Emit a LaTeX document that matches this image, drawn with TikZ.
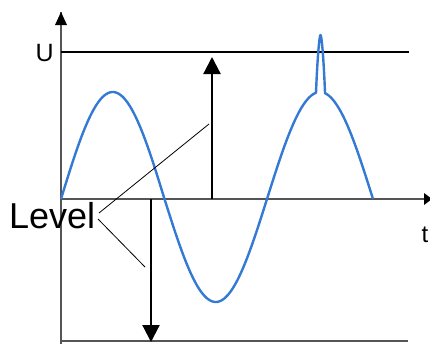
\documentclass[tikz,border=0pt]{standalone}
\usepackage{fontspec}
\setmainfont{Liberation Sans}
\usetikzlibrary{arrows.meta}
\definecolor{wave}{RGB}{52,122,212}
\definecolor{axisgray}{RGB}{85,85,85}
\begin{document}
\begin{tikzpicture}[x=1pt,y=-1pt,
  axisline/.style={draw=axisgray,line width=1.6pt},
  refline/.style={draw=black,line width=2.2pt},
  levelarrow/.style={draw=black,line width=2.2pt,-{Triangle[length=17pt,width=17pt]}},
  pointer/.style={draw=black,line width=0.8pt},
  wavestyle/.style={draw=wave,line width=2.4pt,line join=round}]
\useasboundingbox (0,0) rectangle (430,343);
\clip (0,0) rectangle (430,343);
% coordinates
\coordinate (O) at (61,199);
\coordinate (ytop) at (61,12);
\coordinate (ybot) at (61,344);
\coordinate (xend) at (432,199);
\coordinate (U0) at (61,52);
\coordinate (U1) at (409,52);
\coordinate (B0) at (61,341);
\coordinate (B1) at (408,341);
\coordinate (upbase) at (212,199);
\coordinate (uptip) at (212,57);
\coordinate (dnbase) at (151,199);
\coordinate (dntip) at (151,342);
\coordinate (p1) at (209,124);
\coordinate (p2) at (145,267);
% axes
\draw[axisline] (ybot) -- (ytop);
\fill[black] (61,12) -- (55,25) -- (67,25) -- cycle;
\draw[axisline] (O) -- (xend);
\fill[black] (432,199) -- (424,193) -- (424,205) -- cycle;
\draw[axisline] (B0) -- (B1);
\draw[refline] (U0) -- (U1);
% labels
\node[font=\fontsize{25}{25}\selectfont,anchor=east,inner sep=0pt] (Ulab) at (54,53) {U};
\node[font=\fontsize{24}{24}\selectfont,anchor=base,inner sep=0pt] (tlab) at (425,242) {t};
\node[font=\fontsize{36}{36}\selectfont,anchor=base west,inner sep=0pt] (level) at (9,228) {Level};
% wave
\draw[wavestyle]
  plot[domain=61:164.5,samples=60,smooth] (\x,{199-107*sin((\x-61)/103.5*180)})
  -- plot[domain=164.5:267,samples=60,smooth] (\x,{199+103*sin((\x-164.5)/102.5*180)})
  -- plot[domain=267:316,samples=40,smooth] (\x,{199-107*sin((\x-267)/106*180)})
  .. controls (317.5,55) and (319.5,35) .. (320.5,35)
  .. controls (321.5,35) and (323.5,55) .. (325,92.5)
  -- plot[domain=325:373,samples=40,smooth] (\x,{199-107*sin((\x-267)/106*180)});
% level arrows
\draw[levelarrow] (upbase) -- (uptip);
\draw[levelarrow] (dnbase) -- (dntip);
% pointers
\draw[pointer] (99,213) -- (p1);
\draw[pointer] (98,219) -- (p2);
\end{tikzpicture}
\end{document}
